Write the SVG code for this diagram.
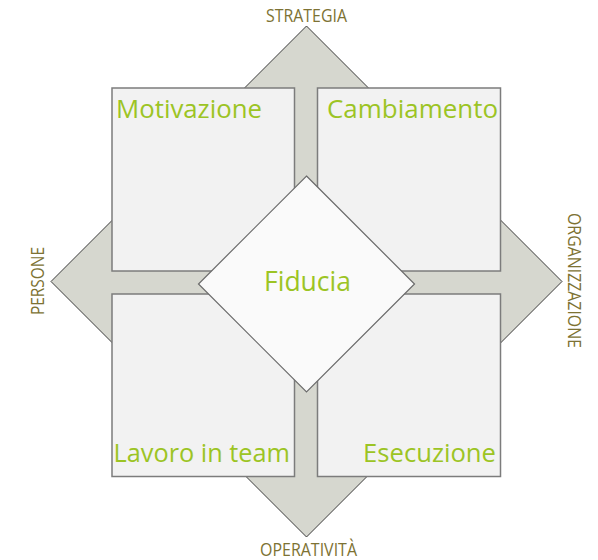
<svg xmlns="http://www.w3.org/2000/svg" width="598" height="560" viewBox="0 0 598 560">
<style>
.axis{fill:#d6d7cf;stroke:#3a3a3a;stroke-width:1;stroke-linejoin:miter}
.box{fill:#f2f2f2;stroke:#7c7c7c;stroke-width:1.5}
.dia{fill:#fafafa;stroke:#6a6a6a;stroke-width:1.2}
.t{font-family:"Open Sans","Liberation Sans",sans-serif;font-size:26px;fill:#9cc424}
.lab{font-family:"Open Sans","Liberation Sans",sans-serif;font-size:17.5px;fill:#7d7233}
</style>
<rect width="598" height="560" fill="#ffffff"/>
<g id="connectors">
<polygon class="axis" points="306.5,26 396.5,116 326.5,116 326.5,261.5 472,261.5 472,191.5 562,281.5 472,371.5 472,301.5 326.5,301.5 326.5,447 396.5,447 306.5,537 216.5,447 286.5,447 286.5,301.5 141,301.5 141,371.5 51,281.5 141,191.5 141,261.5 286.5,261.5 286.5,116 216.5,116"/>
</g>
<g id="label-strategia"><text class="lab" x="266" y="21.5" textLength="81" lengthAdjust="spacingAndGlyphs">STRATEGIA</text></g>
<g id="label-operativita"><text class="lab" x="260" y="555.5" textLength="97" lengthAdjust="spacingAndGlyphs">OPERATIVITÀ</text></g>
<g id="label-persone"><text class="lab" transform="translate(44,281) rotate(-90)" x="-34" y="0" textLength="68" lengthAdjust="spacingAndGlyphs">PERSONE</text></g>
<g id="label-organizzazione"><text class="lab" transform="translate(568,280.5) rotate(90)" x="-67.5" y="0" textLength="135" lengthAdjust="spacingAndGlyphs">ORGANIZZAZIONE</text></g>
<g id="motivazione">
<rect class="box" x="112" y="88" width="182.5" height="183"/>
<text class="t" x="116" y="117.5" textLength="146" lengthAdjust="spacingAndGlyphs">Motivazione</text>
</g>
<g id="cambiamento">
<rect class="box" x="317.5" y="88" width="183" height="183"/>
<text class="t" x="327" y="118" textLength="171" lengthAdjust="spacingAndGlyphs">Cambiamento</text>
</g>
<g id="lavoro">
<rect class="box" x="112" y="294" width="182.5" height="182.5"/>
<text class="t" x="113.5" y="461.5" textLength="176.5" lengthAdjust="spacingAndGlyphs">Lavoro in team</text>
</g>
<g id="esecuzione">
<rect class="box" x="317.5" y="294" width="183" height="182.5"/>
<text class="t" x="363" y="461.5" textLength="133" lengthAdjust="spacingAndGlyphs">Esecuzione</text>
</g>
<g id="fiducia">
<polygon class="dia" points="306.5,176 414.5,284 306.5,392 198.5,284"/>
<text class="t" x="264" y="290.5" style="font-size:27px" textLength="87" lengthAdjust="spacingAndGlyphs">Fiducia</text>
</g>
</svg>
